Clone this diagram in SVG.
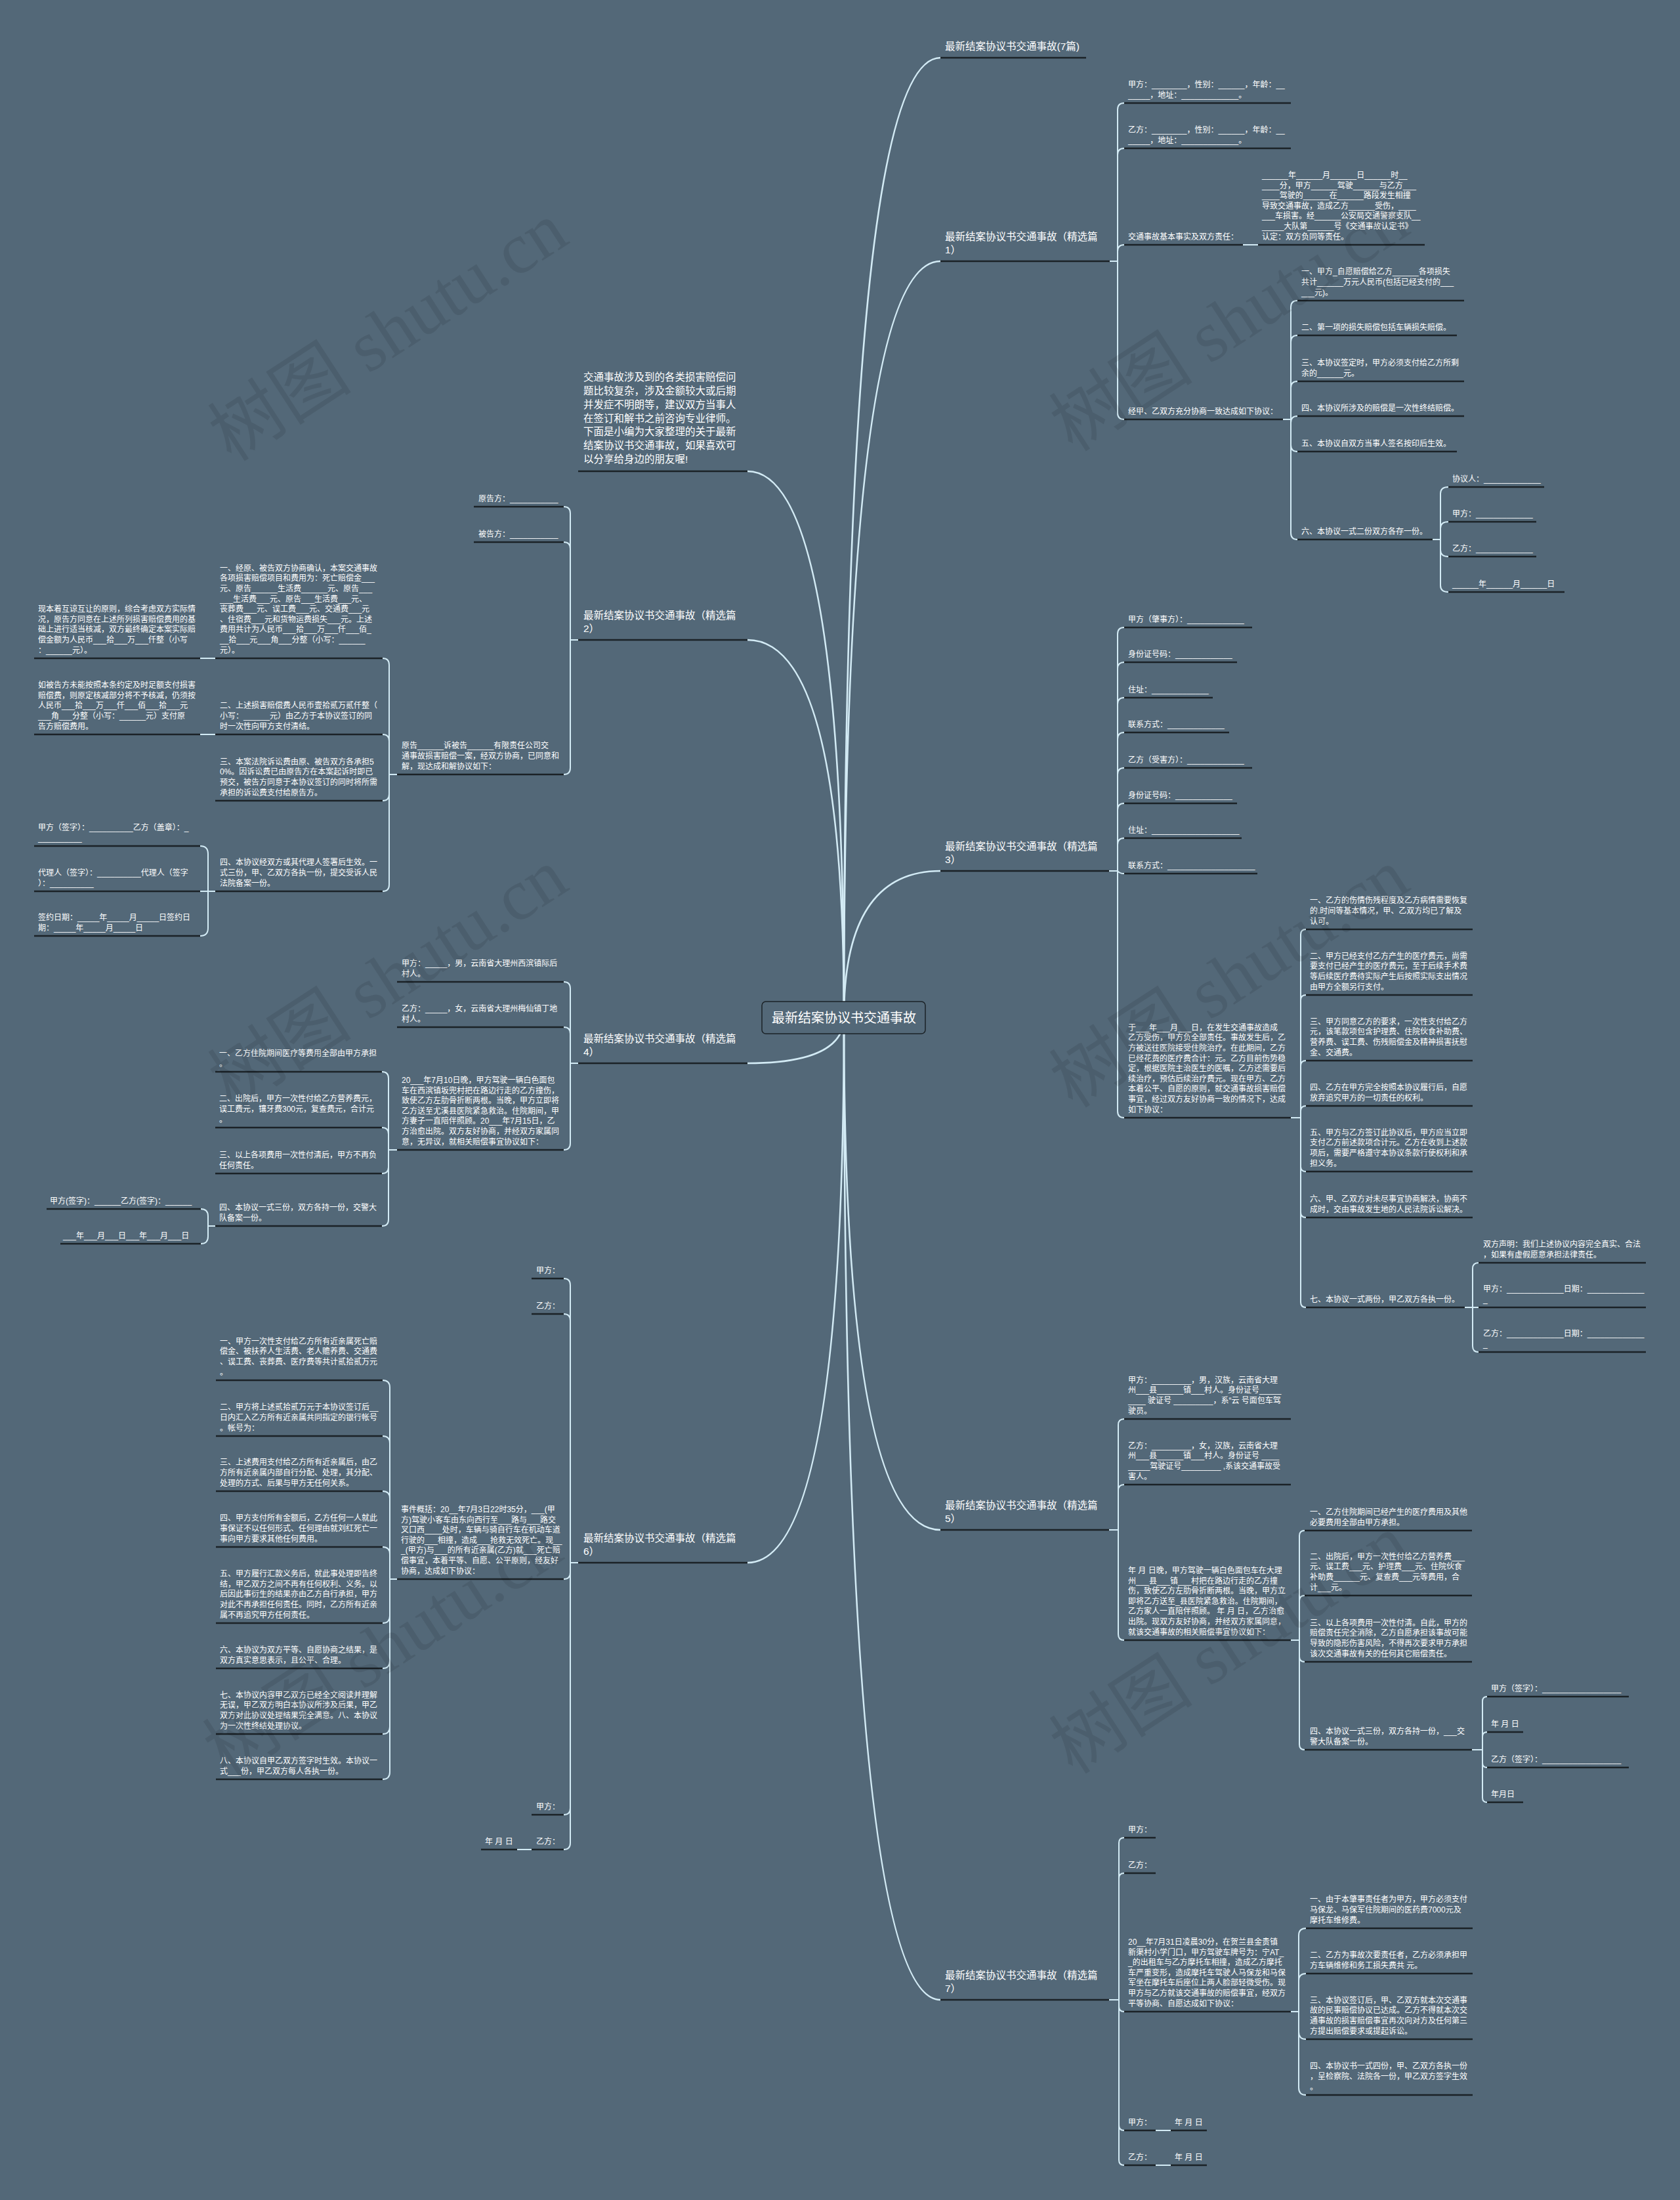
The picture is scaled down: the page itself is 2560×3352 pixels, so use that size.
<svg xmlns="http://www.w3.org/2000/svg" width="2560" height="3352" viewBox="0 0 2560 3352">
<style>
text{font-family:"Liberation Sans","Noto Sans CJK SC",sans-serif;fill:#fff}
.t{font-size:12px}
.b{font-size:15.5px}
.r{font-size:20px;text-anchor:middle}
.u{stroke:#1b2227;stroke-width:2.5;fill:none}
.c{stroke:#d3ebf5;stroke-width:2;fill:none}
.k{stroke:#d3ebf5;stroke-width:2.6;fill:none}
.w{font-family:"Liberation Serif","Noto Sans CJK SC",serif;font-size:110px;fill:#000;fill-opacity:.09}
</style>
<rect width="2560" height="3352" fill="#536878"/>
<g id="connectors">
<path class="k" d="M1286 1550Q1286 88 1433 88"/>
<path class="k" d="M1286 1550Q1286 398 1433 398"/>
<path class="k" d="M1286 1550Q1286 1327 1433 1327"/>
<path class="k" d="M1286 1550Q1286 2331 1433 2331"/>
<path class="k" d="M1286 1550Q1286 3047 1433 3047"/>
<path class="k" d="M1286 1550Q1286 718 1139 718"/>
<path class="k" d="M1286 1550Q1286 975 1139 975"/>
<path class="k" d="M1286 1550Q1286 1620 1139 1620"/>
<path class="k" d="M1286 1550Q1286 2381 1139 2381"/>
<path class="c" d="M1691 398H1703V167Q1703 157 1713 157M1703 398V236Q1703 226 1713 226M1703 398V383Q1703 373 1713 373M1703 398V629Q1703 639 1713 639"/>
<path class="c" d="M1894 373H1917"/>
<path class="c" d="M1955 639H1967V468Q1967 458 1977 458M1967 639V521Q1967 511 1977 511M1967 639V591Q1967 581 1977 581M1967 639V644Q1967 634 1977 634M1967 639V678Q1967 688 1977 688M1967 639V812Q1967 822 1977 822"/>
<path class="c" d="M2183 822H2195V752Q2195 742 2207 742M2195 822V805Q2195 795 2207 795M2195 822V838Q2195 848 2207 848M2195 822V892Q2195 902 2207 902"/>
<path class="c" d="M1690 1327H1703V966Q1703 956 1713 956M1703 1327V1019Q1703 1009 1713 1009M1703 1327V1073Q1703 1063 1713 1063M1703 1327V1126Q1703 1116 1713 1116M1703 1327V1180Q1703 1170 1713 1170M1703 1327V1234Q1703 1224 1713 1224M1703 1327V1287Q1703 1277 1713 1277M1703 1327Q1706 1331 1713 1331M1703 1327V1693Q1703 1703 1713 1703"/>
<path class="c" d="M1967 1703H1982V1424Q1982 1416 1990 1416M1982 1703V1524Q1982 1516 1990 1516M1982 1703V1624Q1982 1616 1990 1616M1982 1703V1693Q1982 1685 1990 1685M1982 1703V1777Q1982 1785 1990 1785M1982 1703V1847Q1982 1855 1990 1855M1982 1703V1984Q1982 1992 1990 1992"/>
<path class="c" d="M2232 1992H2244V1933Q2244 1924 2253 1924M2232 1992H2253M2244 1992V2051Q2244 2060 2253 2060"/>
<path class="c" d="M1690 2331H1704V2171Q1704 2162 1713 2162M1704 2331V2271Q1704 2262 1713 2262M1704 2331V2490Q1704 2499 1713 2499"/>
<path class="c" d="M1967 2499H1980V2340Q1980 2332 1988 2332M1980 2499V2439Q1980 2431 1988 2431M1980 2499V2524Q1980 2532 1988 2532M1980 2499V2658Q1980 2666 1988 2666"/>
<path class="c" d="M2243 2666H2259V2592Q2259 2585 2266 2585M2259 2666V2646Q2259 2639 2266 2639M2259 2666V2686Q2259 2693 2266 2693M2259 2666V2739Q2259 2746 2266 2746"/>
<path class="c" d="M1690 3047H1705V2808Q1705 2800 1713 2800M1705 3047V2862Q1705 2854 1713 2854M1705 3047V3057Q1705 3065 1713 3065M1705 3047V3238Q1705 3246 1713 3246M1705 3047V3291Q1705 3299 1713 3299"/>
<path class="c" d="M1967 3065H1979V2949Q1979 2938 1990 2938M1979 3065V3018Q1979 3007 1990 3007M1979 3065V3096Q1979 3107 1990 3107M1979 3065V3181Q1979 3192 1990 3192"/>
<path class="c" d="M1761 3246H1784M1761 3299H1784"/>
<path class="c" d="M881 975H869V782Q869 772 859 772M869 975V836Q869 826 859 826M869 975V1170Q869 1180 859 1180"/>
<path class="c" d="M605 1180H593V1013Q593 1003 583 1003M593 1180V1129Q593 1119 583 1119M593 1180V1210Q593 1220 583 1220M593 1180V1348Q593 1358 583 1358"/>
<path class="c" d="M328 1003H305M328 1119H305"/>
<path class="c" d="M328 1358H317V1301Q317 1289 305 1289M328 1358H305M317 1358V1414Q317 1426 305 1426"/>
<path class="c" d="M881 1620H869V1506Q869 1496 859 1496M869 1620V1575Q869 1565 859 1565M869 1620V1742Q869 1752 859 1752"/>
<path class="c" d="M605 1752H592V1643Q592 1633 582 1633M592 1752V1728Q592 1718 582 1718M592 1752V1778Q592 1788 582 1788M592 1752V1858Q592 1868 582 1868"/>
<path class="c" d="M328 1868H317V1853Q317 1842 306 1842M317 1868V1884Q317 1895 306 1895"/>
<path class="c" d="M881 2381H869V1958Q869 1948 859 1948M869 2381V2012Q869 2002 859 2002M869 2381V2396Q869 2406 859 2406M869 2381V2755Q869 2765 859 2765M869 2381V2808Q869 2818 859 2818"/>
<path class="c" d="M605 2406H594V2114Q594 2103 583 2103M594 2406V2199Q594 2188 583 2188M594 2406V2283Q594 2272 583 2272M594 2406V2368Q594 2357 583 2357M594 2406V2462Q594 2473 583 2473M594 2406V2531Q594 2542 583 2542M594 2406V2631Q594 2642 583 2642M594 2406V2700Q594 2711 583 2711"/>
<path class="c" d="M810 2818H788"/>
</g>
<g id="root"><rect x="1161" y="1526" width="249" height="49" rx="6" fill="#536878" stroke="#1b2227" stroke-width="1.5"/><text class="r" x="1286" y="1557.5">最新结案协议书交通事故</text></g>

<g id="b0"><text class="b" x="1440" y="76">最新结案协议书交通事故(7篇)</text><path class="u" d="M1433 88H1655"/></g>

<g id="b1"><text class="b" x="1440" y="365.5">最新结案协议书交通事故（精选篇<tspan x="1440" dy="20.5">1）</tspan></text><path class="u" d="M1433 398H1691"/></g>
<g id="b1-1"><text class="t" x="1719" y="132.9">甲方：________，性别：______，年龄：__<tspan x="1719" dy="15.6">_____，地址：_____________。</tspan></text><path class="u" d="M1713 157H1967"/></g>
<g id="b1-2"><text class="t" x="1719" y="201.9">乙方：________，性别：______，年龄：__<tspan x="1719" dy="15.6">_____，地址：_____________。</tspan></text><path class="u" d="M1713 226H1967"/></g>
<g id="b1-3"><text class="t" x="1719" y="364.5">交通事故基本事实及双方责任：</text><path class="u" d="M1713 373H1894"/></g>
<g id="b1-3-1"><text class="t" x="1923" y="270.9">______年______月______日______时__<tspan x="1923" dy="15.6">____分，甲方______驾驶______与乙方___</tspan><tspan x="1923" dy="15.6">____驾驶的______在______路段发生相撞</tspan><tspan x="1923" dy="15.6">导致交通事故，造成乙方______受伤，____</tspan><tspan x="1923" dy="15.6">___车损害。经______公安局交通警察支队__</tspan><tspan x="1923" dy="15.6">_____大队第______号《交通事故认定书》</tspan><tspan x="1923" dy="15.6">认定：双方负同等责任。</tspan></text><path class="u" d="M1917 373H2171"/></g>
<g id="b1-4"><text class="t" x="1719" y="630.5">经甲、乙双方充分协商一致达成如下协议：</text><path class="u" d="M1713 639H1955"/></g>
<g id="b1-4-1"><text class="t" x="1983" y="418.3">一、甲方_自愿赔偿给乙方______各项损失<tspan x="1983" dy="15.6">共计______万元人民币(包括已经支付的___</tspan><tspan x="1983" dy="15.6">___元)。</tspan></text><path class="u" d="M1977 458H2231"/></g>
<g id="b1-4-2"><text class="t" x="1983" y="502.5">二、第一项的损失赔偿包括车辆损失赔偿。</text><path class="u" d="M1977 511H2220"/></g>
<g id="b1-4-3"><text class="t" x="1983" y="556.9">三、本协议签定时，甲方必须支付给乙方所剩<tspan x="1983" dy="15.6">余的______元。</tspan></text><path class="u" d="M1977 581H2231"/></g>
<g id="b1-4-4"><text class="t" x="1983" y="625.5">四、本协议所涉及的赔偿是一次性终结赔偿。</text><path class="u" d="M1977 634H2231"/></g>
<g id="b1-4-5"><text class="t" x="1983" y="679.5">五、本协议自双方当事人签名按印后生效。</text><path class="u" d="M1977 688H2220"/></g>
<g id="b1-4-6"><text class="t" x="1983" y="813.5">六、本协议一式二份双方各存一份。</text><path class="u" d="M1977 822H2183"/></g>
<g id="b1-4-6-1"><text class="t" x="2213" y="733.5">协议人：_____________</text><path class="u" d="M2207 742H2353"/></g>
<g id="b1-4-6-2"><text class="t" x="2213" y="786.5">甲方：_____________</text><path class="u" d="M2207 795H2341"/></g>
<g id="b1-4-6-3"><text class="t" x="2213" y="839.5">乙方：_____________</text><path class="u" d="M2207 848H2341"/></g>
<g id="b1-4-6-4"><text class="t" x="2213" y="893.5">______年______月______日</text><path class="u" d="M2207 902H2384"/></g>

<g id="b3"><text class="b" x="1440" y="1294.5">最新结案协议书交通事故（精选篇<tspan x="1440" dy="20.5">3）</tspan></text><path class="u" d="M1433 1327H1690"/></g>
<g id="b3-1"><text class="t" x="1719" y="947.5">甲方（肇事方）：_____________</text><path class="u" d="M1713 956H1908"/></g>
<g id="b3-2"><text class="t" x="1719" y="1000.5">身份证号码：_____________</text><path class="u" d="M1713 1009H1885"/></g>
<g id="b3-3"><text class="t" x="1719" y="1054.5">住址：_____________</text><path class="u" d="M1713 1063H1848"/></g>
<g id="b3-4"><text class="t" x="1719" y="1107.5">联系方式：_____________</text><path class="u" d="M1713 1116H1873"/></g>
<g id="b3-5"><text class="t" x="1719" y="1161.5">乙方（受害方）：_____________</text><path class="u" d="M1713 1170H1908"/></g>
<g id="b3-6"><text class="t" x="1719" y="1215.5">身份证号码：_____________</text><path class="u" d="M1713 1224H1885"/></g>
<g id="b3-7"><text class="t" x="1719" y="1268.5">住址：____________________</text><path class="u" d="M1713 1277H1892"/></g>
<g id="b3-8"><text class="t" x="1719" y="1322.5">联系方式：____________________</text><path class="u" d="M1713 1331H1916"/></g>
<g id="b3-9"><text class="t" x="1719" y="1569.7">于___年___月___日，在发生交通事故造成<tspan x="1719" dy="15.6">乙方受伤，甲方负全部责任。事故发生后，乙</tspan><tspan x="1719" dy="15.6">方被送往医院接受住院治疗。在此期间，乙方</tspan><tspan x="1719" dy="15.6">已经花费的医疗费合计：元。乙方目前伤势稳</tspan><tspan x="1719" dy="15.6">定，根据医院主治医生的医嘱，乙方还需要后</tspan><tspan x="1719" dy="15.6">续治疗，预估后续治疗费元。现在甲方、乙方</tspan><tspan x="1719" dy="15.6">本着公平、自愿的原则，就交通事故损害赔偿</tspan><tspan x="1719" dy="15.6">事宜，经过双方友好协商一致的情况下，达成</tspan><tspan x="1719" dy="15.6">如下协议：</tspan></text><path class="u" d="M1713 1703H1967"/></g>
<g id="b3-9-1"><text class="t" x="1996" y="1376.3">一、乙方的伤情伤残程度及乙方病情需要恢复<tspan x="1996" dy="15.6">的.时间等基本情况，甲、乙双方均已了解及</tspan><tspan x="1996" dy="15.6">认可。</tspan></text><path class="u" d="M1990 1416H2244"/></g>
<g id="b3-9-2"><text class="t" x="1996" y="1460.7">二、甲方已经支付乙方产生的医疗费元，尚需<tspan x="1996" dy="15.6">要支付已经产生的医疗费元，至于后续手术费</tspan><tspan x="1996" dy="15.6">等后续医疗费待实际产生后按照实际支出情况</tspan><tspan x="1996" dy="15.6">由甲方全额另行支付。</tspan></text><path class="u" d="M1990 1516H2244"/></g>
<g id="b3-9-3"><text class="t" x="1996" y="1560.7">三、甲方同意乙方的要求，一次性支付给乙方<tspan x="1996" dy="15.6">元，该笔款项包含护理费、住院伙食补助费、</tspan><tspan x="1996" dy="15.6">营养费、误工费、伤残赔偿金及精神损害抚慰</tspan><tspan x="1996" dy="15.6">金、交通费。</tspan></text><path class="u" d="M1990 1616H2244"/></g>
<g id="b3-9-4"><text class="t" x="1996" y="1660.9">四、乙方在甲方完全按照本协议履行后，自愿<tspan x="1996" dy="15.6">放弃追究甲方的一切责任的权利。</tspan></text><path class="u" d="M1990 1685H2244"/></g>
<g id="b3-9-5"><text class="t" x="1996" y="1729.7">五、甲方与乙方签订此协议后，甲方应当立即<tspan x="1996" dy="15.6">支付乙方前述款项合计元。乙方在收到上述款</tspan><tspan x="1996" dy="15.6">项后，需要严格遵守本协议条款行使权利和承</tspan><tspan x="1996" dy="15.6">担义务。</tspan></text><path class="u" d="M1990 1785H2244"/></g>
<g id="b3-9-6"><text class="t" x="1996" y="1830.9">六、甲、乙双方对未尽事宜协商解决，协商不<tspan x="1996" dy="15.6">成时，交由事故发生地的人民法院诉讼解决。</tspan></text><path class="u" d="M1990 1855H2244"/></g>
<g id="b3-9-7"><text class="t" x="1996" y="1983.5">七、本协议一式两份，甲乙双方各执一份。</text><path class="u" d="M1990 1992H2232"/></g>
<g id="b3-9-7-1"><text class="t" x="2260" y="1899.9">双方声明：我们上述协议内容完全真实、合法<tspan x="2260" dy="15.6">，如果有虚假愿意承担法律责任。</tspan></text><path class="u" d="M2253 1924H2508"/></g>
<g id="b3-9-7-2"><text class="t" x="2260" y="1967.9">甲方：_____________日期：_____________<tspan x="2260" dy="15.6">_</tspan></text><path class="u" d="M2253 1992H2508"/></g>
<g id="b3-9-7-3"><text class="t" x="2260" y="2035.9">乙方：_____________日期：_____________<tspan x="2260" dy="15.6">_</tspan></text><path class="u" d="M2253 2060H2508"/></g>

<g id="b5"><text class="b" x="1440" y="2298.5">最新结案协议书交通事故（精选篇<tspan x="1440" dy="20.5">5）</tspan></text><path class="u" d="M1433 2331H1690"/></g>
<g id="b5-1"><text class="t" x="1719" y="2106.7">甲方：_________，男，汉族，云南省大理<tspan x="1719" dy="15.6">州___县______镇___村人。身份证号_____</tspan><tspan x="1719" dy="15.6">____ 驶证号 _________，系“云 号面包车驾</tspan><tspan x="1719" dy="15.6">驶员。</tspan></text><path class="u" d="M1713 2162H1967"/></g>
<g id="b5-2"><text class="t" x="1719" y="2206.7">乙方：_________，女，汉族，云南省大理<tspan x="1719" dy="15.6">州___县______镇___村人。身份证号 ____</tspan><tspan x="1719" dy="15.6">_____驾驶证号_________ ,系该交通事故受</tspan><tspan x="1719" dy="15.6">害人。</tspan></text><path class="u" d="M1713 2262H1967"/></g>
<g id="b5-3"><text class="t" x="1719" y="2396.9">年 月 日晚，甲方驾驶一辆白色面包车在大理<tspan x="1719" dy="15.6">州___县___镇___村把在路边行走的乙方撞</tspan><tspan x="1719" dy="15.6">伤，致使乙方左肋骨折断两根。当晚，甲方立</tspan><tspan x="1719" dy="15.6">即将乙方送至_县医院紧急救治。住院期间，</tspan><tspan x="1719" dy="15.6">乙方家人一直陪伴照顾。 年 月 日，乙方治愈</tspan><tspan x="1719" dy="15.6">出院。现双方友好协商，并经双方家属同意，</tspan><tspan x="1719" dy="15.6">就该交通事故的相关赔偿事宜协议如下：</tspan></text><path class="u" d="M1713 2499H1967"/></g>
<g id="b5-3-1"><text class="t" x="1996" y="2307.9">一、乙方住院期间已经产生的医疗费用及其他<tspan x="1996" dy="15.6">必要费用全部由甲方承担。</tspan></text><path class="u" d="M1988 2332H2243"/></g>
<g id="b5-3-2"><text class="t" x="1996" y="2375.7">二、出院后，甲方一次性付给乙方营养费___<tspan x="1996" dy="15.6">元、误工费___元、护理费___元、住院伙食</tspan><tspan x="1996" dy="15.6">补助费______元、复查费___元等费用，合</tspan><tspan x="1996" dy="15.6">计___元。</tspan></text><path class="u" d="M1988 2431H2243"/></g>
<g id="b5-3-3"><text class="t" x="1996" y="2476.7">三、以上各项费用一次性付清。自此，甲方的<tspan x="1996" dy="15.6">赔偿责任完全消除，乙方自愿承担该事故可能</tspan><tspan x="1996" dy="15.6">导致的隐形伤害风险，不得再次要求甲方承担</tspan><tspan x="1996" dy="15.6">该次交通事故有关的任何其它赔偿责任。</tspan></text><path class="u" d="M1988 2532H2243"/></g>
<g id="b5-3-4"><text class="t" x="1996" y="2641.9">四、本协议一式三份，双方各持一份，___交<tspan x="1996" dy="15.6">警大队备案一份。</tspan></text><path class="u" d="M1988 2666H2243"/></g>
<g id="b5-3-4-1"><text class="t" x="2272" y="2576.5">甲方（签字）：__________________</text><path class="u" d="M2266 2585H2482"/></g>
<g id="b5-3-4-2"><text class="t" x="2272" y="2630.5">年 月 日</text><path class="u" d="M2266 2639H2321"/></g>
<g id="b5-3-4-3"><text class="t" x="2272" y="2684.5">乙方（签字）：__________________</text><path class="u" d="M2266 2693H2482"/></g>
<g id="b5-3-4-4"><text class="t" x="2272" y="2737.5">年月日</text><path class="u" d="M2266 2746H2321"/></g>

<g id="b7"><text class="b" x="1440" y="3014.5">最新结案协议书交通事故（精选篇<tspan x="1440" dy="20.5">7）</tspan></text><path class="u" d="M1433 3047H1690"/></g>
<g id="b7-1"><text class="t" x="1719" y="2791.5">甲方：</text><path class="u" d="M1713 2800H1761"/></g>
<g id="b7-2"><text class="t" x="1719" y="2845.5">乙方：</text><path class="u" d="M1713 2854H1761"/></g>
<g id="b7-3"><text class="t" x="1719" y="2962.9">20__年7月31日凌晨30分，在贺兰县金贵镇<tspan x="1719" dy="15.6">新渠村小学门口，甲方驾驶车牌号为：宁AT_</tspan><tspan x="1719" dy="15.6">_的出租车与乙方摩托车相撞，造成乙方摩托</tspan><tspan x="1719" dy="15.6">车严重变形，造成摩托车驾驶人马保龙和马保</tspan><tspan x="1719" dy="15.6">军坐在摩托车后座位上两人脸部轻微受伤。现</tspan><tspan x="1719" dy="15.6">甲方与乙方就该交通事故的赔偿事宜，经双方</tspan><tspan x="1719" dy="15.6">平等协商、自愿达成如下协议：</tspan></text><path class="u" d="M1713 3065H1967"/></g>
<g id="b7-3-1"><text class="t" x="1996" y="2898.3">一、由于本肇事责任者为甲方，甲方必须支付<tspan x="1996" dy="15.6">马保龙、马保军住院期间的医药费7000元及</tspan><tspan x="1996" dy="15.6">摩托车维修费。</tspan></text><path class="u" d="M1990 2938H2244"/></g>
<g id="b7-3-2"><text class="t" x="1996" y="2982.9">二、乙方为事故次要责任者，乙方必须承担甲<tspan x="1996" dy="15.6">方车辆维修和务工损失费共 元。</tspan></text><path class="u" d="M1990 3007H2244"/></g>
<g id="b7-3-3"><text class="t" x="1996" y="3051.7">三、本协议签订后，甲、乙双方就本次交通事<tspan x="1996" dy="15.6">故的民事赔偿协议已达成。乙方不得就本次交</tspan><tspan x="1996" dy="15.6">通事故的损害赔偿事宜再次向对方及任何第三</tspan><tspan x="1996" dy="15.6">方提出赔偿要求或提起诉讼。</tspan></text><path class="u" d="M1990 3107H2244"/></g>
<g id="b7-3-4"><text class="t" x="1996" y="3152.3">四、本协议书一式四份，甲、乙双方各执一份<tspan x="1996" dy="15.6">，呈检察院、法院各一份，甲乙双方签字生效</tspan><tspan x="1996" dy="15.6">。</tspan></text><path class="u" d="M1990 3192H2244"/></g>
<g id="b7-4"><text class="t" x="1719" y="3237.5">甲方：</text><path class="u" d="M1713 3246H1761"/></g>
<g id="b7-4-1"><text class="t" x="1790" y="3237.5">年 月 日</text><path class="u" d="M1784 3246H1839"/></g>
<g id="b7-5"><text class="t" x="1719" y="3290.5">乙方：</text><path class="u" d="M1713 3299H1761"/></g>
<g id="b7-5-1"><text class="t" x="1790" y="3290.5">年 月 日</text><path class="u" d="M1784 3299H1839"/></g>

<g id="intro"><text class="b" x="889" y="580.2">交通事故涉及到的各类损害赔偿问<tspan x="889" dy="20.8">题比较复杂，涉及金额较大或后期</tspan><tspan x="889" dy="20.8">并发症不明朗等，建议双方当事人</tspan><tspan x="889" dy="20.8">在签订和解书之前咨询专业律师。</tspan><tspan x="889" dy="20.8">下面是小编为大家整理的关于最新</tspan><tspan x="889" dy="20.8">结案协议书交通事故，如果喜欢可</tspan><tspan x="889" dy="20.8">以分享给身边的朋友喔!</tspan></text><path class="u" d="M881 718H1139"/></g>

<g id="b2"><text class="b" x="889" y="942.5">最新结案协议书交通事故（精选篇<tspan x="889" dy="20.5">2）</tspan></text><path class="u" d="M881 975H1139"/></g>
<g id="b2-1"><text class="t" x="729" y="763.5">原告方：___________</text><path class="u" d="M722 772H859"/></g>
<g id="b2-2"><text class="t" x="729" y="817.5">被告方：___________</text><path class="u" d="M722 826H859"/></g>
<g id="b2-3"><text class="t" x="612" y="1140.3">原告______诉被告______有限责任公司交<tspan x="612" dy="15.6">通事故损害赔偿一案，经双方协商，已同意和</tspan><tspan x="612" dy="15.6">解，现达成和解协议如下：</tspan></text><path class="u" d="M605 1180H859"/></g>
<g id="b2-3-1"><text class="t" x="335" y="869.7">一、经原、被告双方协商确认，本案交通事故<tspan x="335" dy="15.6">各项损害赔偿项目和费用为：死亡赔偿金___</tspan><tspan x="335" dy="15.6">元、原告______生活费______元、原告___</tspan><tspan x="335" dy="15.6">___生活费___元、原告___生活费___元、</tspan><tspan x="335" dy="15.6">丧葬费___元、误工费___元、交通费___元</tspan><tspan x="335" dy="15.6">、住宿费___元和货物运费损失___元。上述</tspan><tspan x="335" dy="15.6">费用共计为人民币___拾___万___仟___佰_</tspan><tspan x="335" dy="15.6">__拾___元___角___分整（小写：______</tspan><tspan x="335" dy="15.6">元）。</tspan></text><path class="u" d="M328 1003H583"/></g>
<g id="b2-3-1-1"><text class="t" x="58" y="932.1">现本着互谅互让的原则，综合考虑双方实际情<tspan x="58" dy="15.6">况，原告方同意在上述所列损害赔偿费用的基</tspan><tspan x="58" dy="15.6">础上进行适当核减，双方最终确定本案实际赔</tspan><tspan x="58" dy="15.6">偿金额为人民币___拾___万___仟整（小写</tspan><tspan x="58" dy="15.6">：______元）。</tspan></text><path class="u" d="M52 1003H305"/></g>
<g id="b2-3-2"><text class="t" x="335" y="1079.3">二、上述损害赔偿费人民币壹拾贰万贰仟整（<tspan x="335" dy="15.6">小写：______元）由乙方于本协议签订的同</tspan><tspan x="335" dy="15.6">时一次性向甲方支付清结。</tspan></text><path class="u" d="M328 1119H583"/></g>
<g id="b2-3-2-1"><text class="t" x="58" y="1048.1">如被告方未能按照本条约定及时足额支付损害<tspan x="58" dy="15.6">赔偿费，则原定核减部分将不予核减，仍须按</tspan><tspan x="58" dy="15.6">人民币___拾___万___仟___佰___拾___元</tspan><tspan x="58" dy="15.6">___角___分整（小写：______元）支付原</tspan><tspan x="58" dy="15.6">告方赔偿费用。</tspan></text><path class="u" d="M52 1119H305"/></g>
<g id="b2-3-3"><text class="t" x="335" y="1164.7">三、本案法院诉讼费由原、被告双方各承担5<tspan x="335" dy="15.6">0%。因诉讼费已由原告方在本案起诉时即已</tspan><tspan x="335" dy="15.6">预交，被告方同意于本协议签订的同时将所需</tspan><tspan x="335" dy="15.6">承担的诉讼费支付给原告方。</tspan></text><path class="u" d="M328 1220H583"/></g>
<g id="b2-3-4"><text class="t" x="335" y="1318.3">四、本协议经双方或其代理人签署后生效。一<tspan x="335" dy="15.6">式三份，甲、乙双方各执一份，提交受诉人民</tspan><tspan x="335" dy="15.6">法院备案一份。</tspan></text><path class="u" d="M328 1358H583"/></g>
<g id="b2-3-4-1"><text class="t" x="58" y="1264.9">甲方（签字）：__________乙方（盖章）：_<tspan x="58" dy="15.6">__________</tspan></text><path class="u" d="M52 1289H305"/></g>
<g id="b2-3-4-2"><text class="t" x="58" y="1333.9">代理人（签字）：__________代理人（签字<tspan x="58" dy="15.6">）：__________</tspan></text><path class="u" d="M52 1358H305"/></g>
<g id="b2-3-4-3"><text class="t" x="58" y="1401.9">签约日期：_____年_____月_____日签约日<tspan x="58" dy="15.6">期：_____年_____月_____日</tspan></text><path class="u" d="M52 1426H305"/></g>

<g id="b4"><text class="b" x="889" y="1587.5">最新结案协议书交通事故（精选篇<tspan x="889" dy="20.5">4）</tspan></text><path class="u" d="M881 1620H1139"/></g>
<g id="b4-1"><text class="t" x="612" y="1471.9">甲方：_____，男，云南省大理州西滨镇际后<tspan x="612" dy="15.6">村人。</tspan></text><path class="u" d="M605 1496H859"/></g>
<g id="b4-2"><text class="t" x="612" y="1540.9">乙方：_____，女，云南省大理州梅仙镇丁地<tspan x="612" dy="15.6">村人。</tspan></text><path class="u" d="M605 1565H859"/></g>
<g id="b4-3"><text class="t" x="612" y="1649.9">20___年7月10日晚，甲方驾驶一辆白色面包<tspan x="612" dy="15.6">车在西滨镇坂兜村把在路边行走的乙方撞伤，</tspan><tspan x="612" dy="15.6">致使乙方左肋骨折断两根。当晚，甲方立即将</tspan><tspan x="612" dy="15.6">乙方送至尤溪县医院紧急救治。住院期间，甲</tspan><tspan x="612" dy="15.6">方妻子一直陪伴照顾。20___年7月15日，乙</tspan><tspan x="612" dy="15.6">方治愈出院。双方友好协商，并经双方家属同</tspan><tspan x="612" dy="15.6">意，无异议，就相关赔偿事宜协议如下：</tspan></text><path class="u" d="M605 1752H859"/></g>
<g id="b4-3-1"><text class="t" x="334" y="1608.9">一、乙方住院期间医疗等费用全部由甲方承担<tspan x="334" dy="15.6">。</tspan></text><path class="u" d="M328 1633H582"/></g>
<g id="b4-3-2"><text class="t" x="334" y="1678.3">二、出院后，甲方一次性付给乙方营养费元，<tspan x="334" dy="15.6">误工费元，镶牙费300元，复查费元，合计元</tspan><tspan x="334" dy="15.6">。</tspan></text><path class="u" d="M328 1718H582"/></g>
<g id="b4-3-3"><text class="t" x="334" y="1763.9">三、以上各项费用一次性付清后，甲方不再负<tspan x="334" dy="15.6">任何责任。</tspan></text><path class="u" d="M328 1788H582"/></g>
<g id="b4-3-4"><text class="t" x="334" y="1843.9">四、本协议一式三份，双方各持一份，交警大<tspan x="334" dy="15.6">队备案一份。</tspan></text><path class="u" d="M328 1868H582"/></g>
<g id="b4-3-4-1"><text class="t" x="76" y="1833.5">甲方(签字)：______乙方(签字)：______</text><path class="u" d="M71 1842H306"/></g>
<g id="b4-3-4-2"><text class="t" x="96" y="1886.5">___年___月___日___年___月___日</text><path class="u" d="M92 1895H306"/></g>

<g id="b6"><text class="b" x="889" y="2348.5">最新结案协议书交通事故（精选篇<tspan x="889" dy="20.5">6）</tspan></text><path class="u" d="M881 2381H1139"/></g>
<g id="b6-1"><text class="t" x="817" y="1939.5">甲方：</text><path class="u" d="M810 1948H859"/></g>
<g id="b6-2"><text class="t" x="817" y="1993.5">乙方：</text><path class="u" d="M810 2002H859"/></g>
<g id="b6-3"><text class="t" x="611" y="2303.9">事件概括：20__年7月3日22时35分，___(甲<tspan x="611" dy="15.6">方)驾驶小客车由东向西行至___路与___路交</tspan><tspan x="611" dy="15.6">叉口西____处时，车辆与骑自行车在机动车道</tspan><tspan x="611" dy="15.6">行驶的___相撞，造成___抢救无效死亡。现__</tspan><tspan x="611" dy="15.6">_(甲方)与___的所有近亲属(乙方)就___死亡赔</tspan><tspan x="611" dy="15.6">偿事宜，本着平等、自愿、公平原则，经友好</tspan><tspan x="611" dy="15.6">协商，达成如下协议：</tspan></text><path class="u" d="M605 2406H859"/></g>
<g id="b6-3-1"><text class="t" x="335" y="2047.7">一、甲方一次性支付给乙方所有近亲属死亡赔<tspan x="335" dy="15.6">偿金、被扶养人生活费、老人赡养费、交通费</tspan><tspan x="335" dy="15.6">、误工费、丧葬费、医疗费等共计贰拾贰万元</tspan><tspan x="335" dy="15.6">。</tspan></text><path class="u" d="M329 2103H583"/></g>
<g id="b6-3-2"><text class="t" x="335" y="2148.3">二、甲方将上述贰拾贰万元于本协议签订后__<tspan x="335" dy="15.6">日内汇入乙方所有近亲属共同指定的银行帐号</tspan><tspan x="335" dy="15.6">。帐号为：</tspan></text><path class="u" d="M329 2188H583"/></g>
<g id="b6-3-3"><text class="t" x="335" y="2232.3">三、上述费用支付给乙方所有近亲属后，由乙<tspan x="335" dy="15.6">方所有近亲属内部自行分配、处理，其分配、</tspan><tspan x="335" dy="15.6">处理的方式、后果与甲方无任何关系。</tspan></text><path class="u" d="M329 2272H583"/></g>
<g id="b6-3-4"><text class="t" x="335" y="2317.3">四、甲方支付所有金额后，乙方任何一人就此<tspan x="335" dy="15.6">事保证不以任何形式、任何理由就刘红死亡一</tspan><tspan x="335" dy="15.6">事向甲方要求其他任何费用。</tspan></text><path class="u" d="M329 2357H583"/></g>
<g id="b6-3-5"><text class="t" x="335" y="2402.1">五、甲方履行汇款义务后，就此事处理即告终<tspan x="335" dy="15.6">结，甲乙双方之间不再有任何权利、义务。以</tspan><tspan x="335" dy="15.6">后因此事衍生的结果亦由乙方自行承担，甲方</tspan><tspan x="335" dy="15.6">对此不再承担任何责任。同时，乙方所有近亲</tspan><tspan x="335" dy="15.6">属不再追究甲方任何责任。</tspan></text><path class="u" d="M329 2473H583"/></g>
<g id="b6-3-6"><text class="t" x="335" y="2517.9">六、本协议为双方平等、自愿协商之结果，是<tspan x="335" dy="15.6">双方真实意思表示，且公平、合理。</tspan></text><path class="u" d="M329 2542H583"/></g>
<g id="b6-3-7"><text class="t" x="335" y="2586.7">七、本协议内容甲乙双方已经全文阅读并理解<tspan x="335" dy="15.6">无误，甲乙双方明白本协议所涉及后果，甲乙</tspan><tspan x="335" dy="15.6">双方对此协议处理结果完全满意。八、本协议</tspan><tspan x="335" dy="15.6">为一次性终结处理协议。</tspan></text><path class="u" d="M329 2642H583"/></g>
<g id="b6-3-8"><text class="t" x="335" y="2686.9">八、本协议自甲乙双方签字时生效。本协议一<tspan x="335" dy="15.6">式___份，甲乙双方每人各执一份。</tspan></text><path class="u" d="M329 2711H583"/></g>
<g id="b6-4"><text class="t" x="817" y="2756.5">甲方：</text><path class="u" d="M810 2765H859"/></g>
<g id="b6-5"><text class="t" x="817" y="2809.5">乙方：</text><path class="u" d="M810 2818H859"/></g>
<g id="b6-5-1"><text class="t" x="739" y="2809.5">年 月 日</text><path class="u" d="M733 2818H788"/></g>

<g id="watermark">
<text class="w" transform="translate(353 705) rotate(-33)">树图 shutu.cn</text>
<text class="w" transform="translate(1635 690) rotate(-33)">树图 shutu.cn</text>
<text class="w" transform="translate(353 1690) rotate(-33)">树图 shutu.cn</text>
<text class="w" transform="translate(1635 1690) rotate(-33)">树图 shutu.cn</text>
<text class="w" transform="translate(345 2710) rotate(-33)">树图 shutu.cn</text>
<text class="w" transform="translate(1635 2705) rotate(-33)">树图 shutu.cn</text>
</g>
</svg>
